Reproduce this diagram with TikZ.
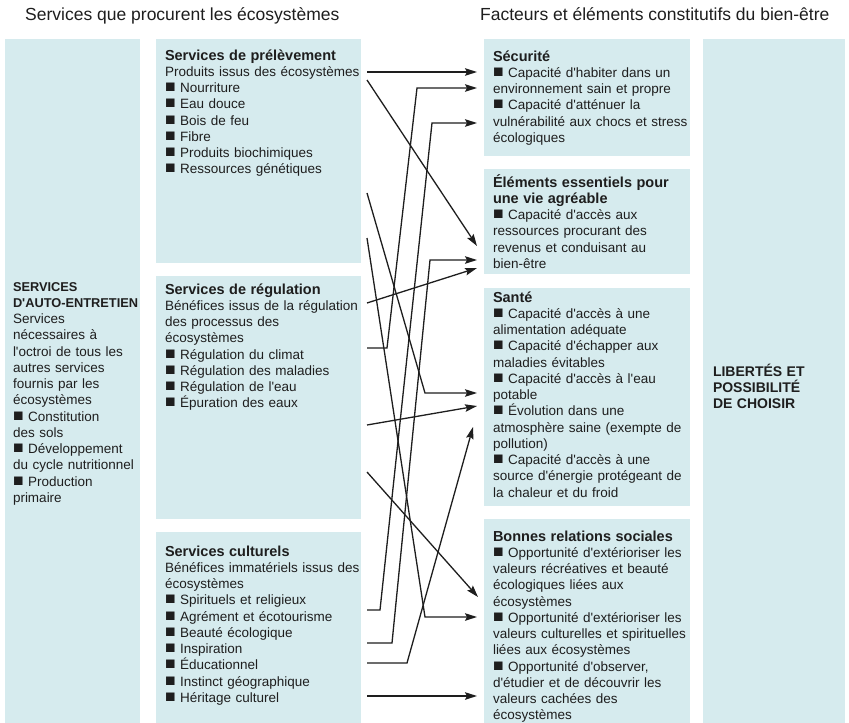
\documentclass[tikz,border=0pt]{standalone}
\usepackage{fontspec}
\setmainfont{Liberation Sans}[Ligatures=TeXOff]
\usetikzlibrary{arrows.meta}
\definecolor{boxblue}{HTML}{D6EBEE}
\definecolor{ink}{HTML}{1E1E1E}
\newcommand\hdg[2][14.5]{{\fontsize{#1}{16.25}\selectfont\bfseries #2}}
\newcommand\sq{{\fontsize{17.5}{16.25}\selectfont ■}}
\begin{document}
\begin{tikzpicture}[x=1pt,y=-1pt,
  panel/.style={fill=boxblue, draw=none, anchor=north west, inner sep=0pt, outer sep=0pt},
  txt/.style={anchor=base west, inner sep=0pt, outer sep=0pt, text width=260pt, align=left, text=ink, font=\fontsize{13.5}{16.25}\selectfont},
  ttl/.style={anchor=base west, inner sep=0pt, text=ink, font=\fontsize{17.5}{20}\selectfont},
  link/.style={draw=ink, line width=1.3pt, line join=miter, -{Stealth[length=12pt,width=7.5pt,inset=2pt]}}
]
\useasboundingbox (0,0) rectangle (849,723);
\fill[white] (0,0) rectangle (849,723);

% titles
\node[ttl] (t1) at (25,20) {Services que procurent les écosystèmes};
\node[ttl] (t2) at (480,20) {Facteurs et éléments constitutifs du bien-être};

% panels
\node[panel, minimum width=135pt, minimum height=685pt] (auto) at (5,39) {};
\node[panel, minimum width=205pt, minimum height=224pt] (prel) at (156,39) {};
\node[panel, minimum width=205pt, minimum height=243pt] (regu) at (156,276) {};
\node[panel, minimum width=205pt, minimum height=192pt] (cult) at (156,532) {};
\node[panel, minimum width=206pt, minimum height=117pt] (secu) at (484,39) {};
\node[panel, minimum width=206pt, minimum height=105pt] (elem) at (484,169) {};
\node[panel, minimum width=206pt, minimum height=218pt] (sante) at (484,288) {};
\node[panel, minimum width=206pt, minimum height=205pt] (rel) at (484,519) {};
\node[panel, minimum width=142pt, minimum height=685pt] (lib) at (703,39) {};

% texts
\node[txt] (autoT) at (13,291) {\hdg[12.8]{SERVICES}\\ \hdg[12.8]{D'AUTO-ENTRETIEN}\\ Services\\ nécessaires à\\ l'octroi de tous les\\ autres services\\ fournis par les\\ écosystèmes\\ \sq{} Constitution\\ des sols\\ \sq{} Développement\\ du cycle nutritionnel\\ \sq{} Production\\ primaire};

\node[txt] (prelT) at (165,60) {\hdg{Services de prélèvement}\\ Produits issus des écosystèmes\\ \sq{} Nourriture\\ \sq{} Eau douce\\ \sq{} Bois de feu\\ \sq{} Fibre\\ \sq{} Produits biochimiques\\ \sq{} Ressources génétiques};

\node[txt] (reguT) at (165,294) {\hdg{Services de régulation}\\ Bénéfices issus de la régulation\\ des processus des\\ écosystèmes\\ \sq{} Régulation du climat\\ \sq{} Régulation des maladies\\ \sq{} Régulation de l'eau\\ \sq{} Épuration des eaux};

\node[txt] (cultT) at (165,556) {\hdg{Services culturels}\\ Bénéfices immatériels issus des\\ écosystèmes\\ \sq{} Spirituels et religieux\\ \sq{} Agrément et écotourisme\\ \sq{} Beauté écologique\\ \sq{} Inspiration\\ \sq{} Éducationnel\\ \sq{} Instinct géographique\\ \sq{} Héritage culturel};

\node[txt] (secuT) at (493,61) {\hdg{Sécurité}\\ \sq{} Capacité d'habiter dans un\\ environnement sain et propre\\ \sq{} Capacité d'atténuer la\\ vulnérabilité aux chocs et stress\\ écologiques};

\node[txt] (elemT) at (493,187) {\hdg{Éléments essentiels pour}\\ \hdg{une vie agréable}\\ \sq{} Capacité d'accès aux\\ ressources procurant des\\ revenus et conduisant au\\ bien-être};

\node[txt] (santeT) at (493,302) {\hdg{Santé}\\ \sq{} Capacité d'accès à une\\ alimentation adéquate\\ \sq{} Capacité d'échapper aux\\ maladies évitables\\ \sq{} Capacité d'accès à l'eau\\ potable\\ \sq{} Évolution dans une\\ atmosphère saine (exempte de\\ pollution)\\ \sq{} Capacité d'accès à une\\ source d'énergie protégeant de\\ la chaleur et du froid};

\node[txt] (relT) at (493,541) {\hdg{Bonnes relations sociales}\\ \sq{} Opportunité d'extérioriser les\\ valeurs récréatives et beauté\\ écologiques liées aux\\ écosystèmes\\ \sq{} Opportunité d'extérioriser les\\ valeurs culturelles et spirituelles\\ liées aux écosystèmes\\ \sq{} Opportunité d'observer,\\ d'étudier et de découvrir les\\ valeurs cachées des\\ écosystèmes};

\node[txt] (libT) at (713,376) {\hdg[14]{LIBERTÉS ET}\\ \hdg[14]{POSSIBILITÉ}\\ \hdg[14]{DE CHOISIR}};

% connector end points
\coordinate (pA) at (367,72);   \coordinate (sA) at (477,72);
\coordinate (pB) at (367,80);   \coordinate (eB) at (477,246);
\coordinate (pC) at (367,193);  \coordinate (kC) at (425,393);  \coordinate (hC) at (477,393);
\coordinate (pD) at (367,238);  \coordinate (kD) at (425,617);  \coordinate (rD) at (477,617);
\coordinate (rgA) at (367,348); \coordinate (kE1) at (387,348); \coordinate (kE2) at (417,88); \coordinate (sE) at (477,88);
\coordinate (rgB) at (367,303); \coordinate (eF) at (477,268);
\coordinate (rgC) at (367,425); \coordinate (hG) at (477,406);
\coordinate (rgD) at (367,472); \coordinate (rH) at (478,597);
\coordinate (cA) at (367,610);  \coordinate (kI1) at (380,610); \coordinate (kI2) at (432,123); \coordinate (sI) at (477,123);
\coordinate (cB) at (367,643);  \coordinate (kJ1) at (392,643); \coordinate (kJ2) at (430,260); \coordinate (eJ) at (477,260);
\coordinate (cC) at (367,663);  \coordinate (kK) at (407,663);  \coordinate (hK) at (473,427);
\coordinate (cD) at (367,696);  \coordinate (rL) at (477,696);

% connectors
\draw[link] (pA) -- (sA);
\draw[link] (pB) -- (eB);
\draw[link] (pC) -- (kC) -- (hC);
\draw[link] (pD) -- (kD) -- (rD);
\draw[link] (rgA) -- (kE1) -- (kE2) -- (sE);
\draw[link] (rgB) -- (eF);
\draw[link] (rgC) -- (hG);
\draw[link] (rgD) -- (rH);
\draw[link] (cA) -- (kI1) -- (kI2) -- (sI);
\draw[link] (cB) -- (kJ1) -- (kJ2) -- (eJ);
\draw[link] (cC) -- (kK) -- (hK);
\draw[link] (cD) -- (rL);
\end{tikzpicture}
\end{document}
